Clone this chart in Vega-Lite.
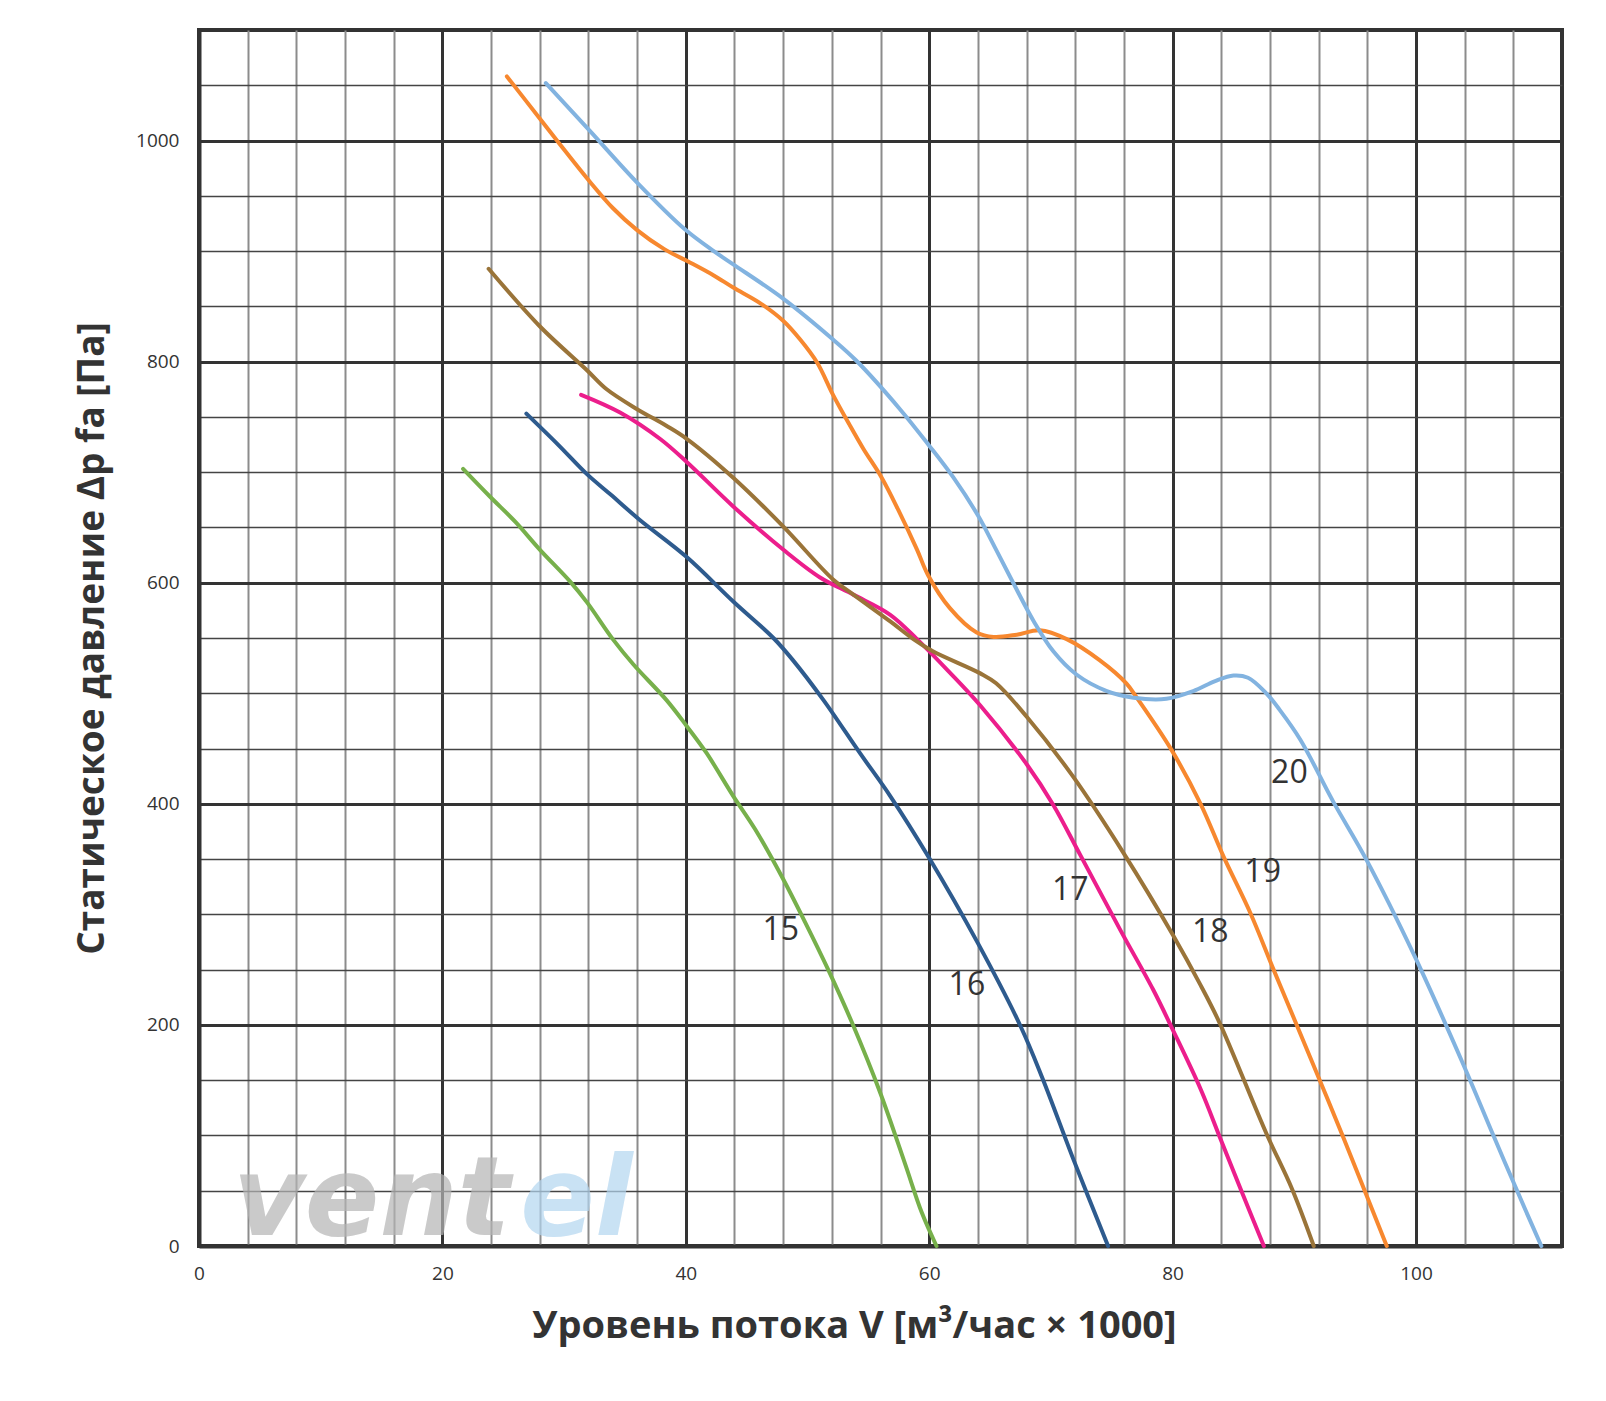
{
  "$schema": "https://vega.github.io/schema/vega-lite/v6.json",
  "width": 1363,
  "height": 1216,
  "autosize": "none",
  "padding": {"left": 199, "top": 30, "right": 44, "bottom": 155},
  "background": "white",
  "config": {
    "view": {"stroke": "#333333", "strokeWidth": 4},
    "font": "Open Sans"
  },
  "datasets": {
    "curves": [
      {"curve": "15", "v": 21.7, "p": 703}, {"curve": "15", "v": 23.9, "p": 678}, {"curve": "15", "v": 26.0, "p": 655}, {"curve": "15", "v": 28.0, "p": 630}, {"curve": "15", "v": 30.5, "p": 601}, {"curve": "15", "v": 31.9, "p": 582}, {"curve": "15", "v": 34.0, "p": 549}, {"curve": "15", "v": 35.7, "p": 526}, {"curve": "15", "v": 38.4, "p": 494}, {"curve": "15", "v": 40.1, "p": 470}, {"curve": "15", "v": 41.7, "p": 446}, {"curve": "15", "v": 43.9, "p": 407}, {"curve": "15", "v": 45.7, "p": 377}, {"curve": "15", "v": 47.9, "p": 334}, {"curve": "15", "v": 49.8, "p": 293}, {"curve": "15", "v": 51.7, "p": 250}, {"curve": "15", "v": 53.7, "p": 201}, {"curve": "15", "v": 56.0, "p": 138}, {"curve": "15", "v": 58.0, "p": 75}, {"curve": "15", "v": 59.4, "p": 30}, {"curve": "15", "v": 60.6, "p": 0},
      {"curve": "16", "v": 26.9, "p": 753}, {"curve": "16", "v": 29.5, "p": 725}, {"curve": "16", "v": 31.9, "p": 698}, {"curve": "16", "v": 33.8, "p": 680}, {"curve": "16", "v": 36.2, "p": 657}, {"curve": "16", "v": 40.1, "p": 623}, {"curve": "16", "v": 43.9, "p": 583}, {"curve": "16", "v": 47.2, "p": 550}, {"curve": "16", "v": 48.8, "p": 530}, {"curve": "16", "v": 51.3, "p": 494}, {"curve": "16", "v": 54.3, "p": 446}, {"curve": "16", "v": 56.8, "p": 407}, {"curve": "16", "v": 60.0, "p": 351}, {"curve": "16", "v": 63.9, "p": 276}, {"curve": "16", "v": 67.5, "p": 199}, {"curve": "16", "v": 69.3, "p": 152}, {"curve": "16", "v": 71.9, "p": 77}, {"curve": "16", "v": 74.7, "p": 0},
      {"curve": "17", "v": 31.4, "p": 770}, {"curve": "17", "v": 34.6, "p": 754}, {"curve": "17", "v": 37.9, "p": 730}, {"curve": "17", "v": 40.1, "p": 709}, {"curve": "17", "v": 43.9, "p": 669}, {"curve": "17", "v": 48.0, "p": 630}, {"curve": "17", "v": 51.0, "p": 605}, {"curve": "17", "v": 53.8, "p": 589}, {"curve": "17", "v": 56.8, "p": 571}, {"curve": "17", "v": 59.0, "p": 549}, {"curve": "17", "v": 61.5, "p": 521}, {"curve": "17", "v": 64.2, "p": 489}, {"curve": "17", "v": 68.0, "p": 436}, {"curve": "17", "v": 70.2, "p": 399}, {"curve": "17", "v": 72.4, "p": 354}, {"curve": "17", "v": 75.7, "p": 286}, {"curve": "17", "v": 78.4, "p": 232}, {"curve": "17", "v": 80.0, "p": 196}, {"curve": "17", "v": 82.3, "p": 142}, {"curve": "17", "v": 83.9, "p": 98}, {"curve": "17", "v": 85.8, "p": 46}, {"curve": "17", "v": 87.5, "p": 0},
      {"curve": "18", "v": 23.8, "p": 884}, {"curve": "18", "v": 28.0, "p": 832}, {"curve": "18", "v": 31.9, "p": 792}, {"curve": "18", "v": 33.5, "p": 775}, {"curve": "18", "v": 36.0, "p": 757}, {"curve": "18", "v": 38.4, "p": 742}, {"curve": "18", "v": 40.1, "p": 730}, {"curve": "18", "v": 43.9, "p": 695}, {"curve": "18", "v": 48.0, "p": 651}, {"curve": "18", "v": 52.1, "p": 603}, {"curve": "18", "v": 53.8, "p": 589}, {"curve": "18", "v": 56.8, "p": 565}, {"curve": "18", "v": 58.7, "p": 549}, {"curve": "18", "v": 60.3, "p": 538}, {"curve": "18", "v": 64.2, "p": 518}, {"curve": "18", "v": 65.5, "p": 509}, {"curve": "18", "v": 68.0, "p": 479}, {"curve": "18", "v": 71.8, "p": 425}, {"curve": "18", "v": 76.0, "p": 355}, {"curve": "18", "v": 80.1, "p": 280}, {"curve": "18", "v": 82.3, "p": 236}, {"curve": "18", "v": 83.9, "p": 201}, {"curve": "18", "v": 87.7, "p": 102}, {"curve": "18", "v": 89.8, "p": 52}, {"curve": "18", "v": 91.6, "p": 0},
      {"curve": "19", "v": 25.3, "p": 1058}, {"curve": "19", "v": 28.0, "p": 1020}, {"curve": "19", "v": 29.7, "p": 996}, {"curve": "19", "v": 32.1, "p": 963}, {"curve": "19", "v": 34.0, "p": 939}, {"curve": "19", "v": 36.0, "p": 919}, {"curve": "19", "v": 38.2, "p": 902}, {"curve": "19", "v": 40.3, "p": 890}, {"curve": "19", "v": 42.3, "p": 878}, {"curve": "19", "v": 43.9, "p": 867}, {"curve": "19", "v": 46.1, "p": 853}, {"curve": "19", "v": 48.0, "p": 837}, {"curve": "19", "v": 49.4, "p": 820}, {"curve": "19", "v": 50.8, "p": 799}, {"curve": "19", "v": 52.1, "p": 770}, {"curve": "19", "v": 53.5, "p": 742}, {"curve": "19", "v": 54.6, "p": 721}, {"curve": "19", "v": 56.1, "p": 695}, {"curve": "19", "v": 57.5, "p": 665}, {"curve": "19", "v": 59.0, "p": 630}, {"curve": "19", "v": 59.9, "p": 607}, {"curve": "19", "v": 61.7, "p": 577}, {"curve": "19", "v": 63.9, "p": 555}, {"curve": "19", "v": 65.3, "p": 551}, {"curve": "19", "v": 67.2, "p": 553}, {"curve": "19", "v": 69.1, "p": 557}, {"curve": "19", "v": 71.3, "p": 549}, {"curve": "19", "v": 74.0, "p": 530}, {"curve": "19", "v": 76.2, "p": 509}, {"curve": "19", "v": 77.0, "p": 497}, {"curve": "19", "v": 79.9, "p": 449}, {"curve": "19", "v": 82.3, "p": 400}, {"curve": "19", "v": 84.2, "p": 352}, {"curve": "19", "v": 86.4, "p": 301}, {"curve": "19", "v": 88.3, "p": 250}, {"curve": "19", "v": 90.2, "p": 200}, {"curve": "19", "v": 94.0, "p": 99}, {"curve": "19", "v": 97.6, "p": 0},
      {"curve": "20", "v": 28.5, "p": 1052}, {"curve": "20", "v": 32.1, "p": 1009}, {"curve": "20", "v": 36.0, "p": 962}, {"curve": "20", "v": 39.9, "p": 920}, {"curve": "20", "v": 42.3, "p": 900}, {"curve": "20", "v": 43.9, "p": 888}, {"curve": "20", "v": 48.0, "p": 857}, {"curve": "20", "v": 52.1, "p": 820}, {"curve": "20", "v": 54.0, "p": 801}, {"curve": "20", "v": 57.6, "p": 757}, {"curve": "20", "v": 60.0, "p": 724}, {"curve": "20", "v": 62.0, "p": 695}, {"curve": "20", "v": 64.0, "p": 661}, {"curve": "20", "v": 65.4, "p": 632}, {"curve": "20", "v": 66.9, "p": 600}, {"curve": "20", "v": 68.6, "p": 565}, {"curve": "20", "v": 70.2, "p": 538}, {"curve": "20", "v": 72.1, "p": 517}, {"curve": "20", "v": 74.6, "p": 502}, {"curve": "20", "v": 76.8, "p": 496}, {"curve": "20", "v": 79.5, "p": 495}, {"curve": "20", "v": 81.7, "p": 502}, {"curve": "20", "v": 83.5, "p": 511}, {"curve": "20", "v": 85.0, "p": 516}, {"curve": "20", "v": 86.2, "p": 514}, {"curve": "20", "v": 87.7, "p": 500}, {"curve": "20", "v": 88.8, "p": 485}, {"curve": "20", "v": 90.5, "p": 458}, {"curve": "20", "v": 93.2, "p": 402}, {"curve": "20", "v": 95.9, "p": 350}, {"curve": "20", "v": 99.9, "p": 262}, {"curve": "20", "v": 103.9, "p": 164}, {"curve": "20", "v": 106.4, "p": 99}, {"curve": "20", "v": 108.9, "p": 35}, {"curve": "20", "v": 110.3, "p": 0}
    ],
    "labels": [
      {"label": "15", "v": 47.8, "p": 286},
      {"label": "16", "v": 63.1, "p": 236},
      {"label": "17", "v": 71.6, "p": 322},
      {"label": "18", "v": 83.1, "p": 284},
      {"label": "19", "v": 87.4, "p": 338},
      {"label": "20", "v": 89.6, "p": 428}
    ],
    "watermark": [
      {"text": "vent", "v": 2.8, "p": 10, "part": "a"},
      {"text": "el", "v": 26.4, "p": 10, "part": "b"}
    ]
  },
  "resolve": {"axis": {"x": "independent", "y": "independent"}, "scale": {"color": "independent"}},
  "layer": [
    {
      "data": {"name": "watermark"},
      "mark": {"type": "text", "align": "left", "baseline": "alphabetic", "font": "DejaVu Sans", "fontSize": 110, "fontWeight": "bold", "fontStyle": "oblique", "opacity": 0.7},
      "encoding": {
        "x": {"field": "v", "type": "quantitative", "scale": {"domain": [0, 112], "nice": false, "zero": false}, "axis": null},
        "y": {"field": "p", "type": "quantitative", "scale": {"domain": [0, 1100], "nice": false, "zero": false}, "axis": null},
        "text": {"field": "text"},
        "color": {"field": "part", "type": "nominal", "scale": {"domain": ["a", "b"], "range": ["#b5b5b5", "#b3d6f0"]}, "legend": null}
      }
    },
    {
      "data": {"name": "curves"},
      "mark": {"type": "line", "interpolate": "catmull-rom", "strokeWidth": 4, "strokeCap": "round"},
      "encoding": {
        "x": {"field": "v", "type": "quantitative", "scale": {"domain": [0, 112], "nice": false, "zero": false},
          "axis": {"orient": "top", "values": [4, 8, 12, 16, 24, 28, 32, 36, 44, 48, 52, 56, 64, 68, 72, 76, 84, 88, 92, 96, 104, 108], "labels": false, "ticks": false, "domain": false, "grid": true, "gridColor": "#8c8c8c", "gridWidth": 2, "gridOpacity": 1, "title": null}},
        "y": {"field": "p", "type": "quantitative", "scale": {"domain": [0, 1100], "nice": false, "zero": false},
          "axis": {"orient": "right", "values": [50, 100, 150, 250, 300, 350, 450, 500, 550, 650, 700, 750, 850, 900, 950, 1050], "labels": false, "ticks": false, "domain": false, "grid": true, "gridColor": "#444444", "gridWidth": 1.6, "gridOpacity": 1, "title": null}},
        "color": {"field": "curve", "type": "nominal", "scale": {"domain": ["15", "16", "17", "18", "19", "20"], "range": ["#77b04b", "#2e5b8e", "#ec1e8c", "#9a7439", "#f7882f", "#82b3e0"]}, "legend": null}
      }
    },
    {
      "data": {"name": "labels"},
      "mark": {"type": "text", "align": "center", "baseline": "middle", "fontSize": 32, "color": "#333333", "font": "Open Sans"},
      "encoding": {
        "x": {"field": "v", "type": "quantitative", "scale": {"domain": [0, 112], "nice": false, "zero": false},
          "axis": {"orient": "bottom", "values": [0, 20, 40, 60, 80, 100], "format": "d", "labelFlush": false, "grid": true, "gridColor": "#333333", "gridWidth": 3, "gridOpacity": 1, "ticks": false, "domain": true, "domainColor": "#333333", "domainWidth": 4, "labelFontSize": 19, "labelColor": "#333333", "labelPadding": 18, "labelFont": "Open Sans",
            "title": "Уровень потока V [м³/час × 1000]", "titleFontSize": 38, "titleFontWeight": "bold", "titleColor": "#333333", "titleFont": "Open Sans", "titlePadding": 24, "titleX": 655}},
        "y": {"field": "p", "type": "quantitative", "scale": {"domain": [0, 1100], "nice": false, "zero": false},
          "axis": {"orient": "left", "values": [0, 200, 400, 600, 800, 1000], "format": "d", "labelFlush": false, "grid": true, "gridColor": "#333333", "gridWidth": 3, "gridOpacity": 1, "ticks": false, "domain": true, "domainColor": "#333333", "domainWidth": 4, "labelFontSize": 19, "labelColor": "#333333", "labelPadding": 20, "labelFont": "Open Sans",
            "title": "Статическое давление Δp fa [Па]", "titleFontSize": 37, "titleFontWeight": "bold", "titleColor": "#333333", "titleFont": "Open Sans", "titlePadding": 24}},
        "text": {"field": "label"}
      }
    }
  ]
}
